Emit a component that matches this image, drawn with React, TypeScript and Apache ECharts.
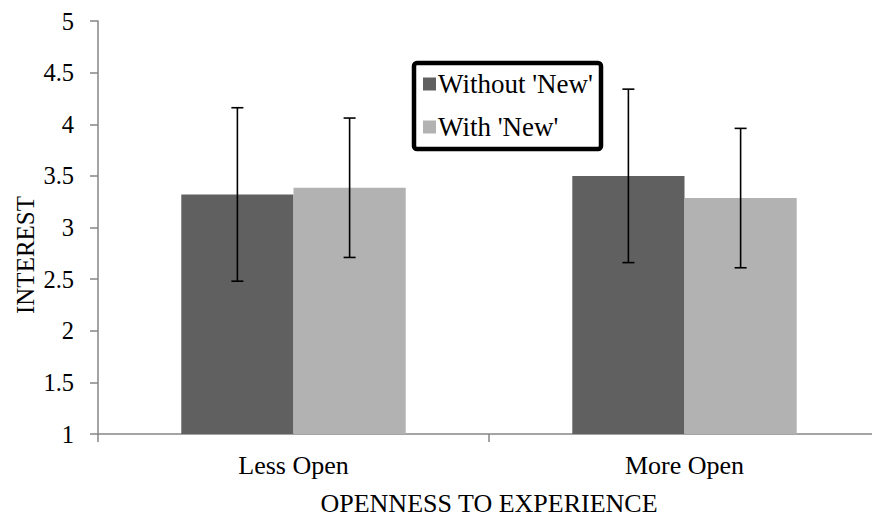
import React, { useEffect, useRef } from "react";
import * as echarts from "echarts";

const categories = ["Less Open", "More Open"];
const seriesNames = ["Without 'New'", "With 'New'"];
const withoutNew = [3.32, 3.5];
const withNew = [3.385, 3.285];
const withoutNewErr = [0.84, 0.84];
const withNewErr = [0.675, 0.675];
const yTicks = { min: 1, max: 5, interval: 0.5 };

const FONT = "'Liberation Serif', 'Times New Roman', serif";
const CAT_GAP = 0.426;

export default function App() {
  const ref = useRef<HTMLDivElement>(null);
  useEffect(() => {
    if (!ref.current) return;
    const chart = echarts.init(ref.current, null, { renderer: "svg" });
    const errData: number[][] = [];
    categories.forEach((_, i) => {
      errData.push([i, withoutNew[i] - withoutNewErr[i], withoutNew[i] + withoutNewErr[i], -1]);
      errData.push([i, withNew[i] - withNewErr[i], withNew[i] + withNewErr[i], 1]);
    });
    chart.setOption({
      animation: false,
      backgroundColor: "#ffffff",
      grid: { left: 98, top: 21, width: 782, height: 413, containLabel: false, outerBoundsMode: "none" },
      legend: {
        data: seriesNames,
        orient: "vertical",
        left: 423,
        top: 69,
        itemWidth: 13,
        itemHeight: 13,
        itemGap: 13,
        icon: "rect",
        padding: 0,
        textStyle: { fontFamily: FONT, fontSize: 27, color: "#000", lineHeight: 30, padding: [0, 0, 0, -3] },
      },
      xAxis: {
        type: "category",
        data: categories,
        name: "OPENNESS TO EXPERIENCE",
        nameLocation: "middle",
        nameGap: 56,
        nameTextStyle: { fontFamily: FONT, fontSize: 26, color: "#000" },
        axisLine: { lineStyle: { color: "#868686", width: 1.5 } },
        axisTick: { show: true, length: 8, lineStyle: { color: "#868686", width: 1.5 } },
        axisLabel: { fontFamily: FONT, fontSize: 26, color: "#000", margin: 18 },
      },
      yAxis: {
        type: "value",
        min: yTicks.min,
        max: yTicks.max,
        interval: yTicks.interval,
        splitLine: { show: false },
        axisLine: { show: true, lineStyle: { color: "#868686", width: 1.5 } },
        axisTick: { show: true, length: 8, lineStyle: { color: "#868686", width: 1.5 } },
        axisLabel: { fontFamily: FONT, fontSize: 24.5, color: "#000", margin: 24 },
      },
      graphic: [
        {
          type: "rect",
          shape: { x: 414, y: 63, width: 187, height: 86, r: 3 },
          style: { fill: "none", stroke: "#000", lineWidth: 4.5 },
          z: 10,
        },
        {
          type: "text",
          x: 25,
          y: 255,
          rotation: Math.PI / 2,
          style: {
            text: "INTEREST",
            fontFamily: FONT,
            fontSize: 25,
            fill: "#000",
            align: "center",
            verticalAlign: "middle",
          },
        },
      ],
      series: [
        {
          name: seriesNames[0],
          type: "bar",
          data: withoutNew,
          barGap: "0%",
          barCategoryGap: CAT_GAP * 100 + "%",
          itemStyle: { color: "#606060" },
        },
        {
          name: seriesNames[1],
          type: "bar",
          data: withNew,
          barGap: "0%",
          barCategoryGap: CAT_GAP * 100 + "%",
          itemStyle: { color: "#b2b2b2" },
        },
        {
          type: "custom",
          data: errData,
          z: 5,
          renderItem: (params: any, api: any) => {
            const idx = api.value(0);
            const lo = api.coord([idx, api.value(1)]);
            const hi = api.coord([idx, api.value(2)]);
            const band = api.size([1, 0])[0];
            const bw = (band * (1 - CAT_GAP)) / 2;
            const x = lo[0] + (api.value(3) * bw) / 2;
            const half = 6;
            const style = { stroke: "#000", lineWidth: 1.6 };
            return {
              type: "group",
              children: [
                { type: "line", shape: { x1: x, y1: lo[1], x2: x, y2: hi[1] }, style },
                { type: "line", shape: { x1: x - half, y1: lo[1], x2: x + half, y2: lo[1] }, style },
                { type: "line", shape: { x1: x - half, y1: hi[1], x2: x + half, y2: hi[1] }, style },
              ],
            };
          },
        },
      ],
    });
    return () => chart.dispose();
  }, []);
  return <div ref={ref} style={{ width: 872, height: 519, position: "absolute", left: 0, top: 0 }} />;
}
